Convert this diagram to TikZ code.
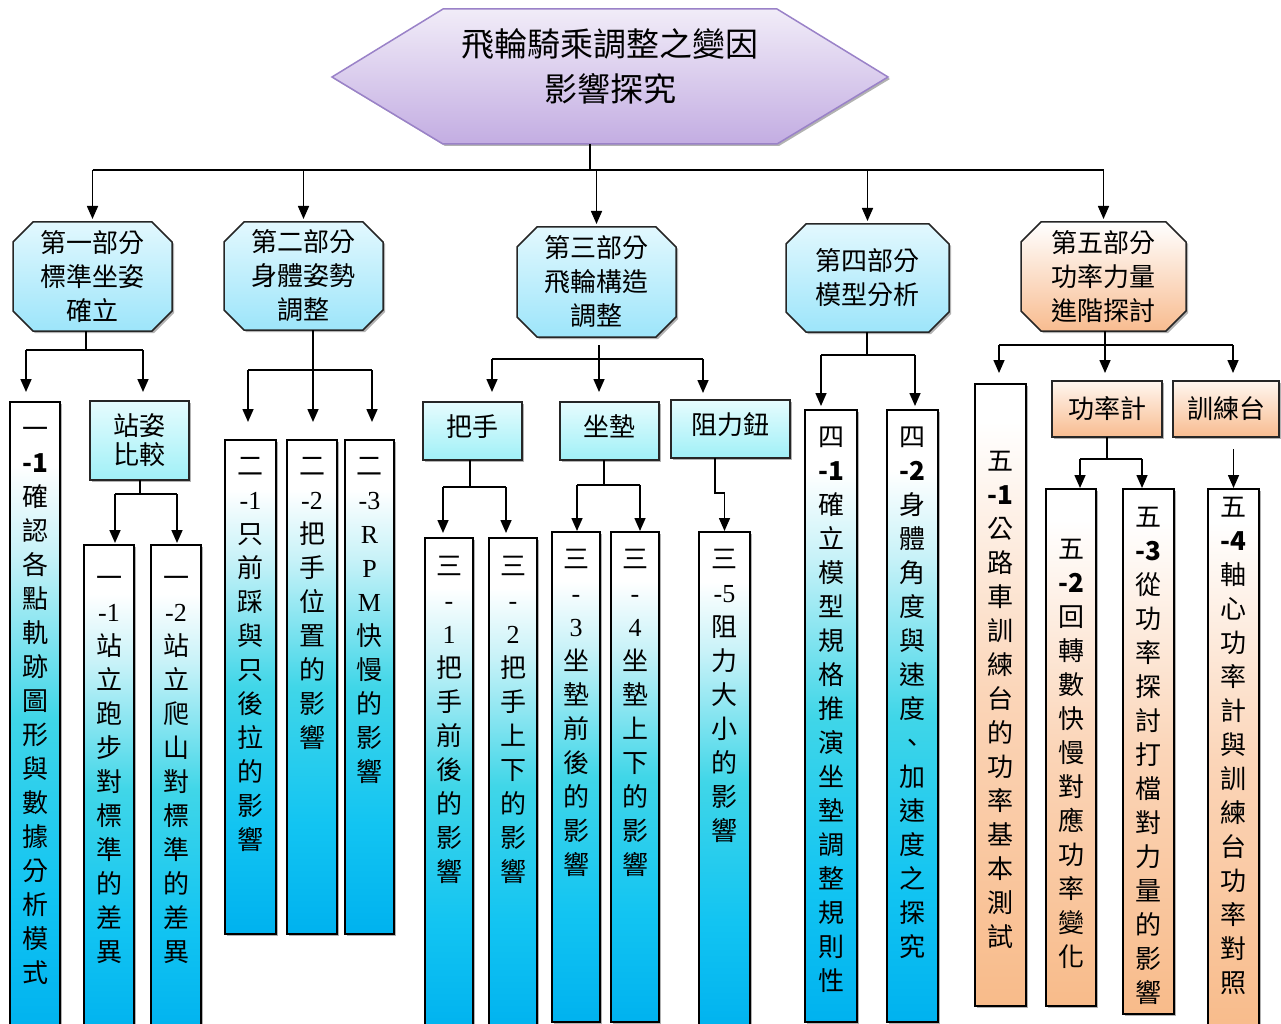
\documentclass[tikz,border=0pt]{standalone}
\usepackage{fontspec}
\setmainfont{Noto Sans CJK TC}
\newfontfamily\ls{Liberation Serif}
\usetikzlibrary{arrows.meta,shadows}
\pgfdeclarelayer{bg}
\pgfdeclarelayer{paper}
\pgfsetlayers{paper,bg,main}
\definecolor{cyB}{HTML}{00B2EF}
\definecolor{cyD}{HTML}{12C4F2}
\definecolor{cyM}{HTML}{40D6E8}
\definecolor{cyL}{HTML}{C8F2F8}
\definecolor{orB}{HTML}{F8BB8A}
\definecolor{orM}{HTML}{FBD5B8}
\definecolor{lcT}{HTML}{E2F8FE}
\definecolor{lcB}{HTML}{9DE5FA}
\definecolor{scT}{HTML}{E6FCFE}
\definecolor{scB}{HTML}{A0F0F7}
\definecolor{loT}{HTML}{FFF6EF}
\definecolor{loB}{HTML}{F8BC90}
\definecolor{hxT}{HTML}{F1ECF8}
\definecolor{hxB}{HTML}{C3ADE2}
\definecolor{hxD}{HTML}{9A82C8}
\pgfdeclareverticalshading{tallcy}{100bp}{color(0bp)=(cyB); color(25bp)=(cyB); color(36bp)=(cyD); color(50bp)=(cyM); color(63bp)=(cyL); color(70bp)=(white); color(100bp)=(white)}
\pgfdeclareverticalshading{tallor}{100bp}{color(0bp)=(orB); color(25bp)=(orB); color(50bp)=(orM); color(72bp)=(white); color(100bp)=(white)}
\ExplSyntaxOn
\seq_new:N \l_vtx_seq
\NewDocumentCommand \Vt { m }
 {
  \seq_clear:N \l_vtx_seq
  \tl_map_inline:nn { #1 } { \seq_put_right:Nn \l_vtx_seq { {##1} } }
  \rule{0pt}{23pt}\seq_use:Nn \l_vtx_seq { \\ }
 }
\ExplSyntaxOff
\tikzset{
  sh/.style={drop shadow={shadow xshift=2pt,shadow yshift=-2pt,opacity=0.3,fill=black}},
  ln/.style={line width=1.6pt, draw=black},
  arr/.style={line width=1.6pt, draw=black, -{Triangle[width=11pt,length=13pt]}},
  tallc/.style={rectangle, draw=black, line width=1.6pt, inner sep=0pt, outer sep=0pt, anchor=north west, shade, shading=tallcy, sh},
  tallo/.style={rectangle, draw=black, line width=1.6pt, inner sep=0pt, outer sep=0pt, anchor=north west, shade, shading=tallor, sh},
  vt/.style={anchor=north, inner sep=0pt, align=center, font=\fontsize{26}{34}\selectfont},
  sbox/.style={rectangle, draw=black!85, line width=1.5pt, inner sep=0pt, outer sep=0pt, anchor=north west, top color=scT, bottom color=scB, font=\fontsize{26}{34}\selectfont, sh},
  obox/.style={rectangle, draw=black!85, line width=1.5pt, inner sep=0pt, outer sep=0pt, anchor=north west, top color=loT, bottom color=loB, font=\fontsize{26}{34}\selectfont, sh},
  raised/.style={text height=20pt, text depth=10pt},
  l2/.style={rectangle, inner sep=0pt, outer sep=0pt, align=center, font=\fontsize{26}{34}\selectfont},
  l2shape/.style={draw=black!85, line width=1.5pt, sh},
}
\begin{document}
\begin{tikzpicture}[x=1pt,y=-1pt]
\begin{pgfonlayer}{paper}
\fill[white] (0,0) rectangle (1281,1024);
\end{pgfonlayer}
\useasboundingbox (0,0) rectangle (1281,1024);
% root
\shadedraw[top color=hxT, bottom color=hxB, draw=hxD, line width=1.5pt, sh]
  (332,77) -- (443,9) -- (777,9) -- (888,77) -- (777,144) -- (443,144) -- cycle;
\node[font=\fontsize{33}{45}\selectfont, align=center, inner sep=0pt] (title) at (610,66) {飛輪騎乘調整之變因\\影響探究};
\coordinate (rootb) at (590,144);
% level 2
\node[l2, minimum width=159pt, minimum height=109pt] (L1) at (92.5,276.5) {第一部分\\標準坐姿\\確立};
\node[l2, minimum width=159pt, minimum height=108pt] (L2) at (303.5,276) {第二部分\\身體姿勢\\調整};
\node[l2, minimum width=159pt, minimum height=110pt] (L3) at (596.5,282) {第三部分\\飛輪構造\\調整};
\node[l2, minimum width=163pt, minimum height=108pt] (L4) at (867.5,278) {第四部分\\模型分析};
\node[l2, minimum width=165pt, minimum height=109pt] (L5) at (1103.5,276.5) {第五部分\\功率力量\\進階探討};
\begin{pgfonlayer}{bg}
\foreach \n/\ct/\cb in {L1/lcT/lcB, L2/lcT/lcB, L3/lcT/lcB, L4/lcT/lcB, L5/white/loB}
  \shadedraw[l2shape, top color=\ct, bottom color=\cb]
    ([xshift=20pt]\n.north west) -- ([xshift=-20pt]\n.north east) -- ([yshift=-20pt]\n.north east)
    -- ([yshift=20pt]\n.south east) -- ([xshift=-20pt]\n.south east) -- ([xshift=20pt]\n.south west)
    -- ([yshift=20pt]\n.south west) -- ([yshift=-20pt]\n.north west) -- cycle;
\end{pgfonlayer}
% small boxes
\node[sbox, minimum width=99pt, minimum height=79pt, align=center, font=\fontsize{26}{29}\selectfont] (SZ) at (90,401) {站姿\\比較};
\node[sbox, raised, minimum width=99pt, minimum height=58pt] (HB) at (423,402) {把手};
\node[sbox, raised, minimum width=99pt, minimum height=58pt] (SD) at (560,402) {坐墊};
\node[sbox, raised, minimum width=119pt, minimum height=58pt] (ZL) at (671,400) {阻力鈕};
\node[obox, minimum width=110pt, minimum height=56pt] (PM) at (1052,381) {功率計};
\node[obox, minimum width=106pt, minimum height=56pt] (TR) at (1173,381) {訓練台};
% tall boxes
\node[tallc, minimum width=50pt, minimum height=630pt] (A1) at (10,402) {};
\node[tallc, minimum width=50pt, minimum height=490pt] (A2) at (84,545) {};
\node[tallc, minimum width=50pt, minimum height=490pt] (A3) at (151,545) {};
\node[tallc, minimum width=51pt, minimum height=494pt] (B1) at (225,440) {};
\node[tallc, minimum width=50pt, minimum height=494pt] (B2) at (287,440) {};
\node[tallc, minimum width=49pt, minimum height=494pt] (B3) at (345,440) {};
\node[tallc, minimum width=48pt, minimum height=495pt] (C1) at (425,538) {};
\node[tallc, minimum width=48pt, minimum height=495pt] (C2) at (489,538) {};
\node[tallc, minimum width=48pt, minimum height=490pt] (C3) at (552,532) {};
\node[tallc, minimum width=48pt, minimum height=490pt] (C4) at (611,532) {};
\node[tallc, minimum width=51pt, minimum height=500pt] (C5) at (699,532) {};
\node[tallc, minimum width=52pt, minimum height=612pt] (D1) at (805,410) {};
\node[tallc, minimum width=51pt, minimum height=612pt] (D2) at (887,410) {};
\node[tallo, minimum width=51pt, minimum height=622pt] (E1) at (975,384) {};
\node[tallo, minimum width=50pt, minimum height=517pt] (E2) at (1046,489) {};
\node[tallo, minimum width=51pt, minimum height=525pt] (E3) at (1123,489) {};
\node[tallo, minimum width=51pt, minimum height=545pt] (E4) at (1208,489) {};
% vertical texts
\node[vt] (tA1) at ([yshift=-13pt]A1.north) {\Vt{一{\bfseries-1}確認各點軌跡圖形與數據分析模式}};
\node[vt] (tA2) at ([yshift=-19pt]A2.north) {\Vt{一{\ls-1}站立跑步對標準的差異}};
\node[vt] (tA3) at ([yshift=-19pt]A3.north) {\Vt{一{\ls-2}站立爬山對標準的差異}};
\node[vt] (tB1) at ([yshift=-12pt]B1.north) {\Vt{二{\ls-1}只前踩與只後拉的影響}};
\node[vt] (tB2) at ([yshift=-12pt]B2.north) {\Vt{二{\ls-2}把手位置的影響}};
\node[vt] (tB3) at ([yshift=-12pt]B3.north) {\Vt{二{\ls-3}{\ls R}{\ls P}{\ls M}快慢的影響}};
\node[vt] (tC1) at ([yshift=-14pt]C1.north) {\Vt{三{\ls-}{\ls 1}把手前後的影響}};
\node[vt] (tC2) at ([yshift=-14pt]C2.north) {\Vt{三{\ls-}{\ls 2}把手上下的影響}};
\node[vt] (tC3) at ([yshift=-13pt]C3.north) {\Vt{三{\ls-}{\ls 3}坐墊前後的影響}};
\node[vt] (tC4) at ([yshift=-13pt]C4.north) {\Vt{三{\ls-}{\ls 4}坐墊上下的影響}};
\node[vt] (tC5) at ([yshift=-13pt]C5.north) {\Vt{三{\ls-5}阻力大小的影響}};
\node[vt] (tD1) at ([yshift=-13pt]D1.north) {\Vt{四{\bfseries-1}確立模型規格推演坐墊調整規則性}};
\node[vt] (tD2) at ([yshift=-13pt]D2.north) {\Vt{四{\bfseries-2}身體角度與速度、加速度之探究}};
\node[vt] (tE1) at ([yshift=-63pt]E1.north) {\Vt{五{\bfseries-1}公路車訓練台的功率基本測試}};
\node[vt] (tE2) at ([yshift=-46pt]E2.north) {\Vt{五{\bfseries-2}回轉數快慢對應功率變化}};
\node[vt] (tE3) at ([yshift=-14pt]E3.north) {\Vt{五{\bfseries-3}從功率探討打檔對力量的影響}};
\node[vt] (tE4) at ([yshift=-4pt]E4.north) {\Vt{五{\bfseries-4}軸心功率計與訓練台功率對照}};
% connectors: root -> level 2
\coordinate (bus) at (0,170);
\draw[ln] (rootb) -- (rootb |- bus);
\draw[ln] (L1.north |- bus) -- (L5.north |- bus);
\foreach \n in {L1,L2,L3,L4,L5} \draw[arr, shorten >=3pt] (\n.north |- bus) -- (\n.north);
% group 1
\coordinate (j1a) at (26,350); \coordinate (j1b) at (143,350);
\draw[ln] ([xshift=-6.5pt]L1.south) |- (j1a);
\draw[ln] (j1a) -- (j1b);
\draw[arr, shorten >=10pt] (j1a) -- ([xshift=-9pt]A1.north);
\draw[arr, shorten >=9pt] (j1b) -- ([xshift=3.5pt]SZ.north);
\coordinate (jsa) at (115,494); \coordinate (jsb) at (177,494);
\draw[ln] ([xshift=0.5pt]SZ.south) |- (jsa);
\draw[ln] (jsa) -- (jsb);
\draw[arr, shorten >=2pt] (jsa) -- ([xshift=6pt]A2.north);
\draw[arr, shorten >=2pt] (jsb) -- ([xshift=1pt]A3.north);
% group 2
\coordinate (j2a) at (248,370); \coordinate (j2b) at (313,370); \coordinate (j2c) at (372,370);
\draw[ln] ([xshift=9.5pt]L2.south) -- (j2b);
\draw[ln] (j2a) -- (j2c);
\draw[arr, shorten >=18pt] (j2a) -- ([xshift=-2.5pt]B1.north);
\draw[arr, shorten >=18pt] (j2b) -- ([xshift=1pt]B2.north);
\draw[arr, shorten >=18pt] (j2c) -- ([xshift=2.5pt]B3.north);
% group 3
\coordinate (j3a) at (492,359); \coordinate (j3b) at (599,359); \coordinate (j3c) at (703,359);
\draw[ln, shorten <=8pt] ([xshift=2.5pt]L3.south) -- (j3b);
\draw[ln] (j3a) -- (j3c);
\draw[arr, shorten >=10pt] (j3a) -- ([xshift=19.5pt]HB.north);
\draw[arr, shorten >=10pt] (j3b) -- ([xshift=-10.5pt]SD.north);
\draw[arr, shorten >=7pt] (j3c) -- ([xshift=-27.5pt]ZL.north);
\coordinate (jha) at (443,487); \coordinate (jhb) at (506,487);
\draw[ln] ([xshift=-2.5pt]HB.south) |- (jha);
\draw[ln] (jha) -- (jhb);
\draw[arr, shorten >=5pt] (jha) -- ([xshift=-6pt]C1.north);
\draw[arr, shorten >=5pt] (jhb) -- ([xshift=-7pt]C2.north);
\coordinate (jda) at (577,485); \coordinate (jdb) at (640,485);
\draw[ln] ([xshift=-5.5pt]SD.south) |- (jda);
\draw[ln] (jda) -- (jdb);
\draw[arr, shorten >=1pt] (jda) -- ([xshift=1pt]C3.north);
\draw[arr, shorten >=1pt] (jdb) -- ([xshift=5pt]C4.north);
\coordinate (jzl) at (724.5,493);
\draw[arr, shorten >=1pt] ([xshift=-15.5pt]ZL.south) |- (jzl) -- (C5.north);
% group 4
\coordinate (j4a) at (821,355); \coordinate (j4b) at (915,355);
\draw[ln] ([xshift=-0.5pt]L4.south) -- (867,355);
\draw[ln] (j4a) -- (j4b);
\draw[arr, shorten >=4pt] (j4a) -- ([xshift=-10pt]D1.north);
\draw[arr, shorten >=4pt] (j4b) -- ([xshift=2.5pt]D2.north);
% group 5
\coordinate (j5a) at (999,345); \coordinate (j5b) at (1105,345); \coordinate (j5c) at (1233,345);
\draw[ln] ([xshift=1.5pt]L5.south) -- (j5b);
\draw[ln] (j5a) -- (j5c);
\draw[arr, shorten >=11pt] (j5a) -- ([xshift=-1.5pt]E1.north);
\draw[arr, shorten >=8pt] (j5b) -- ([xshift=-2pt]PM.north);
\draw[arr, shorten >=8pt] (j5c) -- ([xshift=7pt]TR.north);
\coordinate (jpa) at (1080,459); \coordinate (jpb) at (1142,459);
\draw[ln] (PM.south) -- (1107,459);
\draw[ln] (jpa) -- (jpb);
\draw[arr, shorten >=1pt] (jpa) -- ([xshift=9pt]E2.north);
\draw[arr, shorten >=1pt] (jpb) -- ([xshift=-6.5pt]E3.north);
\draw[arr, shorten <=12pt, shorten >=1pt] ([xshift=7.5pt]TR.south) -- (E4.north);
\end{tikzpicture}
\end{document}
